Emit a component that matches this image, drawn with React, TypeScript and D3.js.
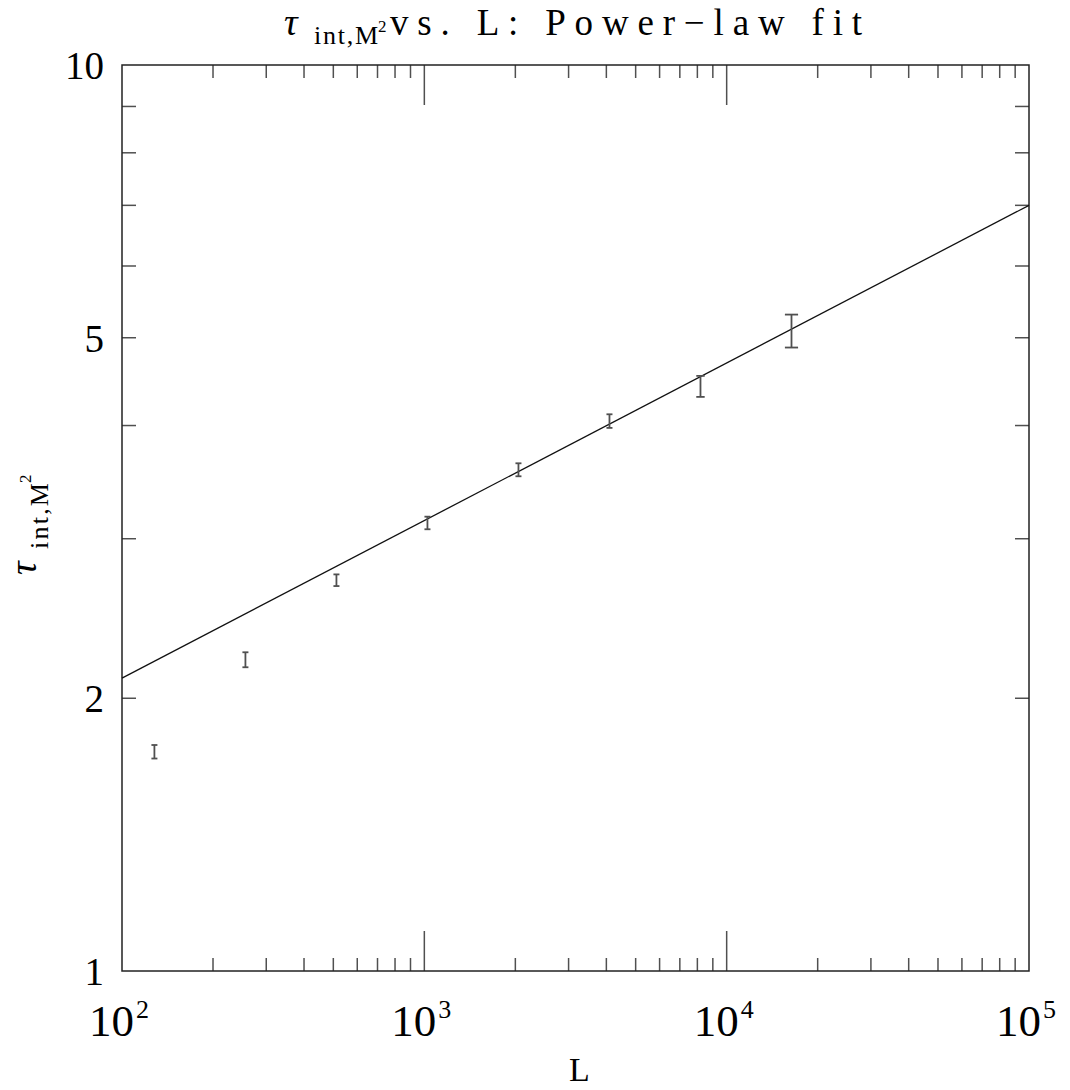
import React from "react";
import * as d3 from "d3";

// lattice sizes and integrated autocorrelation times
const sizes = [128, 256, 512, 1024, 2048, 4096, 8192, 16384];
const tauValues = [1.746, 2.206, 2.7, 3.123, 3.575, 4.046, 4.42, 5.09];
const tauErrors = [0.03, 0.042, 0.04, 0.05, 0.059, 0.07, 0.118, 0.213];

// power-law fit  tau = A * L^b
const fitAmplitude = 0.9448;
const fitExponent = 0.17395;
const fitRange = [100, 100000];

const xDomain = [100, 100000];
const yDomain = [1, 10];
const xTickExponents = [2, 3, 4, 5];
const yTickLabels = [1, 2, 5, 10];

const W = 1070;
const H = 1090;
const margin = { top: 65, right: 41, bottom: 119, left: 122 };
const FONT = "'Liberation Serif', 'DejaVu Serif', serif";

export default function App() {
  const iw = W - margin.left - margin.right;
  const ih = H - margin.top - margin.bottom;

  const x = d3.scaleLog().domain(xDomain).range([0, iw]);
  const y = d3.scaleLog().domain(yDomain).range([ih, 0]);

  // minor ticks: 2..9 within each decade
  const xMinor: number[] = [];
  for (let e = 2; e < 5; e++) {
    for (let m = 2; m <= 9; m++) xMinor.push(m * Math.pow(10, e));
  }
  const xMajor = [1000, 10000];
  const yMinor = d3.range(2, 10);

  const fitLine = d3
    .line<number>()
    .x((d) => x(d))
    .y((d) => y(fitAmplitude * Math.pow(d, fitExponent)));

  const grey = "#505050";

  return (
    <svg width={W} height={H} style={{ position: "absolute", left: 0, top: 0, background: "#fff" }}>
      <rect width={W} height={H} fill="#fff" />

      {/* title */}
      <text fontFamily={FONT} fill="#000">
        <tspan x={284} y={35} fontSize={38} fontStyle="italic">τ</tspan>
        <tspan x={314} y={44} fontSize={26} textLength={64} lengthAdjust="spacing">int,M</tspan>
        <tspan x={378} y={32} fontSize={17}>2</tspan>
        <tspan x={390} y={35} fontSize={37} textLength={472} lengthAdjust="spacing">
          vs. L:  Power−law fit
        </tspan>
      </text>

      <g transform={`translate(${margin.left},${margin.top})`}>
        {/* x ticks bottom & top */}
        {xMinor.map((v) => (
          <g key={"xm" + v} stroke={grey} strokeWidth={1.5}>
            <line x1={x(v)} x2={x(v)} y1={ih} y2={ih - 13} />
            <line x1={x(v)} x2={x(v)} y1={0} y2={13} />
          </g>
        ))}
        {xMajor.map((v) => (
          <g key={"xM" + v} stroke={grey} strokeWidth={1.5}>
            <line x1={x(v)} x2={x(v)} y1={ih} y2={ih - 40} />
            <line x1={x(v)} x2={x(v)} y1={0} y2={40} />
          </g>
        ))}
        {/* y ticks left & right */}
        {yMinor.map((v) => (
          <g key={"ym" + v} stroke={grey} strokeWidth={1.5}>
            <line x1={0} x2={14} y1={y(v)} y2={y(v)} />
            <line x1={iw} x2={iw - 14} y1={y(v)} y2={y(v)} />
          </g>
        ))}

        {/* frame */}
        <rect x={0} y={0} width={iw} height={ih} fill="none" stroke="#222" strokeWidth={1.5} />

        {/* fit line */}
        <path d={fitLine(fitRange) || ""} fill="none" stroke="#111" strokeWidth={1.3} />

        {/* error bars */}
        {sizes.map((L, i) => {
          const cx = x(L);
          const top = y(tauValues[i] + tauErrors[i]);
          const bot = y(tauValues[i] - tauErrors[i]);
          const cap = Math.max(6, 0.4 * (bot - top)) / 2;
          return (
            <g key={"e" + L} stroke={grey} strokeWidth={1.8}>
              <line x1={cx} x2={cx} y1={top} y2={bot} />
              <line x1={cx - cap} x2={cx + cap} y1={top} y2={top} />
              <line x1={cx - cap} x2={cx + cap} y1={bot} y2={bot} />
            </g>
          );
        })}

        {/* y tick labels */}
        {yTickLabels.map((v) => (
          <text
            key={"yl" + v}
            x={-18}
            y={y(v) + 14}
            textAnchor="end"
            fontFamily={FONT}
            fontSize={39}
            fill="#000"
          >
            {v}
          </text>
        ))}

        {/* x tick labels */}
        {xTickExponents.map((e) => (
          <text key={"xl" + e} y={ih + 65} fontFamily={FONT} fill="#000">
            <tspan x={x(Math.pow(10, e)) - 33} fontSize={45}>
              10
            </tspan>
            <tspan x={x(Math.pow(10, e)) + 14} dy={-18} fontSize={26}>
              {e}
            </tspan>
          </text>
        ))}

        {/* x axis label */}
        <text x={iw / 2 + 4} y={ih + 110} textAnchor="middle" fontFamily={FONT} fontSize={34} fill="#000">
          L
        </text>
      </g>

      {/* y axis label */}
      <text transform="translate(36,575) rotate(-90)" fontFamily={FONT} fill="#000">
        <tspan x={0} y={0} fontSize={38} fontStyle="italic">τ</tspan>
        <tspan x={26} y={12} fontSize={26} textLength={66} lengthAdjust="spacing">int,M</tspan>
        <tspan x={92} y={-5} fontSize={17}>2</tspan>
      </text>
    </svg>
  );
}
